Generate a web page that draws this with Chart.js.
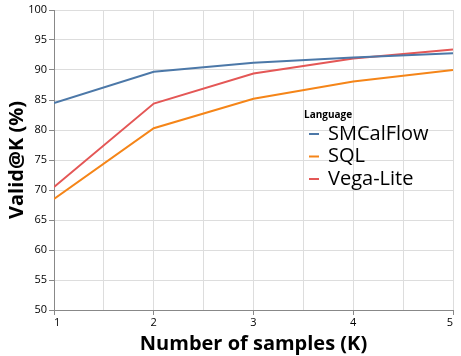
<!DOCTYPE html>
<html>
<head>
<meta charset="utf-8">
<script src="https://cdn.jsdelivr.net/npm/chart.js@4/dist/chart.umd.min.js"></script>
<style>
  html, body { margin: 0; padding: 0; background: #fff; }
  #wrap { width: 461px; height: 356px; }
</style>
</head>
<body>
<div id="wrap"><canvas id="chart" width="461" height="356"></canvas></div>
<script>
const samples = [1, 2, 3, 4, 5];
const languages = ['SMCalFlow', 'SQL', 'Vega-Lite'];
const smcalflow = [84.5, 89.7, 91.2, 92.1, 92.8];
const sql = [68.5, 80.3, 85.2, 88.1, 90.0];
const vegaLite = [70.5, 84.4, 89.4, 91.9, 93.4];
const colors = ['#4c78a8', '#f58518', '#e45756'];

const FONT = "'Open Sans', 'Noto Sans', sans-serif";

// legend drawn inside the plot, vega-lite style
const innerLegend = {
  id: 'innerLegend',
  afterDraw(chart) {
    const ctx = chart.ctx;
    const x0 = 304, y0 = 115;
    ctx.save();
    ctx.fillStyle = '#000';
    ctx.font = `bold 10px ${FONT}`;
    ctx.textBaseline = 'middle';
    ctx.textAlign = 'left';
    ctx.fillText('Language', x0, y0);
    chart.data.datasets.forEach((ds, i) => {
      const y = y0 + 19 + i * 22.5;
      ctx.strokeStyle = ds.borderColor;
      ctx.lineWidth = 2;
      ctx.beginPath();
      ctx.moveTo(x0 + 5, y);
      ctx.lineTo(x0 + 15, y);
      ctx.stroke();
      ctx.fillStyle = '#000';
      ctx.font = `20px ${FONT}`;
      ctx.fillText(ds.label, x0 + 24, y);
    });
    ctx.restore();
  }
};

const series = [smcalflow, sql, vegaLite];

new Chart(document.getElementById('chart'), {
  type: 'line',
  data: {
    datasets: languages.map((name, i) => ({
      label: name,
      data: samples.map((k, j) => ({ x: k, y: series[i][j] })),
      borderColor: colors[i],
      backgroundColor: colors[i],
      borderWidth: 2,
      pointRadius: 0,
      tension: 0,
    })),
  },
  options: {
    responsive: false,
    animation: false,
    layout: { padding: { left: 0, top: 10, right: 8, bottom: 0 } },
    plugins: {
      legend: { display: false },
      tooltip: { enabled: false },
    },
    scales: {
      x: {
        type: 'linear',
        min: 1,
        max: 5,
        afterBuildTicks(scale) {
          scale.ticks = [];
          for (let v = 1; v <= 5.001; v += 0.5) scale.ticks.push({ value: v });
        },
        afterFit(scale) { scale.height = 46; },
        grid: {
          color: '#ddd',
          tickColor: (c) => (c.tick && Number.isInteger(c.tick.value) ? '#888' : 'rgba(0,0,0,0)'),
          tickLength: 5,
        },
        border: { color: '#888' },
        ticks: {
          align: 'inner',
          maxRotation: 0,
          autoSkip: false,
          padding: 1,
          color: '#000',
          font: { family: FONT, size: 11 },
          callback: (v) => (Number.isInteger(v) ? String(v) : ''),
        },
        title: {
          display: true,
          text: 'Number of samples (K)',
          color: '#000',
          font: { family: FONT, size: 20, weight: 'bold' },
          padding: { top: 0, bottom: 0 },
        },
      },
      y: {
        min: 50,
        max: 100,
        afterFit(scale) { scale.width = 54; },
        grid: { color: '#ddd', tickColor: '#888', tickLength: 5 },
        border: { color: '#888' },
        ticks: {
          stepSize: 5,
          padding: 2,
          color: '#000',
          font: { family: FONT, size: 11 },
        },
        title: {
          display: true,
          text: 'Valid@K (%)',
          color: '#000',
          font: { family: FONT, size: 20, weight: 'bold' },
          padding: { top: 5, bottom: 0 },
        },
      },
    },
  },
  plugins: [innerLegend],
});
</script>
</body>
</html>
